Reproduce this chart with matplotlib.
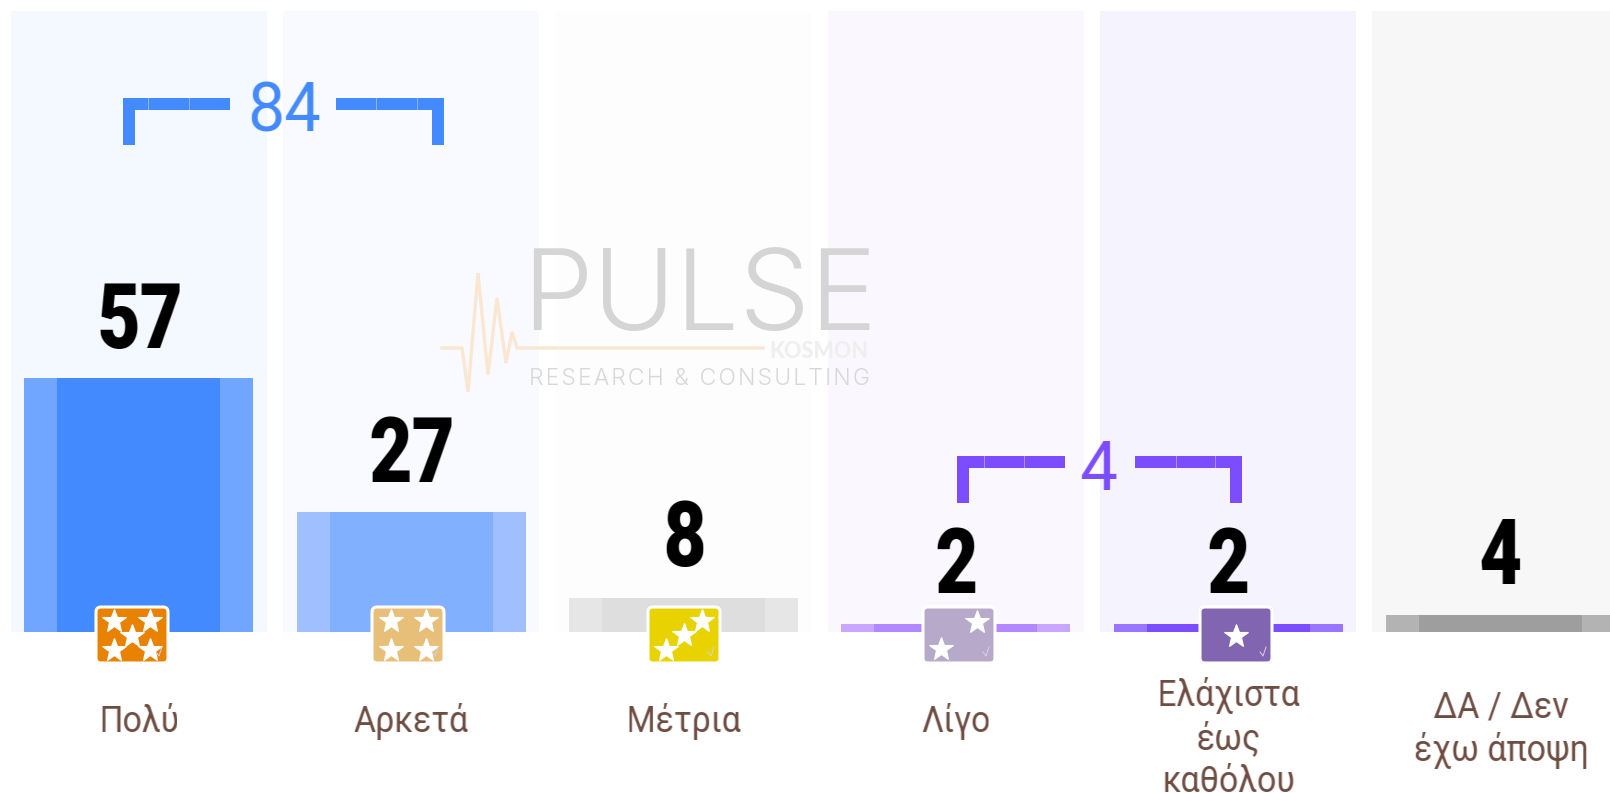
import numpy as np
import matplotlib
matplotlib.use("Agg")
import matplotlib.pyplot as plt
from matplotlib.colors import to_rgb
from matplotlib.patches import FancyBboxPatch, Rectangle

categories = ["Πολύ", "Αρκετά", "Μέτρια", "Λίγο", "Ελάχιστα\nέως\nκαθόλου", "ΔΑ / Δεν\nέχω άποψη"]
values = [57, 27, 8, 2, 2, 4]
bar_heights = [57, 27, 7.6, 1.7, 1.7, 3.8]
bar_inner = ["#448AFF", "#80B0FF", "#DEDEDE", "#B388FF", "#7C4DFF", "#9E9E9E"]
bar_outer = ["#70A6FF", "#A0BFFF", "#E6E6E6", "#C9A6FF", "#9A75FF", "#B3B3B3"]
bands = ["#F4F8FF", "#F9FAFF", "#FDFDFD", "#FAF8FE", "#F5F3FE", "#F7F7F7"]
icon_colors = ["#E88200", "#E8BF78", "#E8D300", "#B6A9C9", "#8265B0"]
group_labels = ["84", "4"]

W, H = 1610, 793
PX_PER_CAT = 272.3
PX_PER_VAL = 4.44
X0, Y0 = 138.8, 631.5


def condensed(factor, color):
    """agg filter: rescale a rendered text horizontally about its centre."""
    rgb = np.array(to_rgb(color))

    def flt(img, dpi):
        h, w = img.shape[:2]
        pad = 2
        new_w = max(1, int(round(w * factor)))
        out = np.zeros((h, new_w + 2 * pad, 4))
        out[..., :3] = rgb
        ss = 6
        xs = (np.arange((new_w + 2 * pad) * ss) + 0.5) / ss - pad
        src = xs / factor - 0.5
        for r in range(h):
            a = np.interp(src, np.arange(w), img[r, :, 3], left=0, right=0)
            out[r, :, 3] = a.reshape(-1, ss).mean(axis=1)
        return out, (w - new_w) / 2 - pad, 0

    return flt


fig = plt.figure(figsize=(W / 100, H / 100), dpi=100, facecolor="white")
ax = fig.add_axes([0, 0, 1, 1])
ax.set_xlim(-X0 / PX_PER_CAT, (W - X0) / PX_PER_CAT)
ax.set_ylim(-(H - Y0) / PX_PER_VAL, Y0 / PX_PER_VAL)
ax.axis("off")

x = list(range(len(values)))
band_top = (Y0 - 11) / PX_PER_VAL
ax.bar(x, [band_top] * 6, width=256 / PX_PER_CAT, color=bands, zorder=1)

# watermark layer
bg = fig.add_axes([0, 0, 1, 1], zorder=1)
bg.set_xlim(0, W)
bg.set_ylim(H, 0)
bg.axis("off")
bg.patch.set_alpha(0)
bg.text(699.5, 330, "PULSE", family="Inter", weight=300, fontsize=81, color="#D5D5D5",
        ha="center", va="baseline")
bg.text(868, 358, "KOSMON", family="Lato", weight="black", fontsize=15.5, color="#EFEFEF",
        ha="right", va="baseline")
bg.text(699.5, 385, "\u200a".join("RESEARCH & CONSULTING"), family=["Inter", "DejaVu Sans"],
        weight=300, fontsize=16.5, color="#D8D8D8", ha="center", va="baseline")
pulse_x = [442, 462, 468, 478, 488, 497, 506, 512, 517, 763]
pulse_y = [348, 348, 392, 273, 375, 298, 363, 332, 348, 348]
bg.plot(pulse_x, pulse_y, color="#F9E7D2", lw=2.4, solid_joinstyle="miter")

# bars
bx = fig.add_axes([0, 0, 1, 1], zorder=2)
bx.set_xlim(ax.get_xlim())
bx.set_ylim(ax.get_ylim())
bx.axis("off")
bx.patch.set_alpha(0)
bx.bar(x, bar_heights, width=229 / PX_PER_CAT, color=bar_outer)
bx.bar(x, bar_heights, width=163 / PX_PER_CAT, color=bar_inner)

# overlay
ov = fig.add_axes([0, 0, 1, 1], zorder=5)
ov.set_xlim(0, W)
ov.set_ylim(H, 0)
ov.axis("off")
ov.patch.set_alpha(0)

for xi, v in zip(x, values):
    t = bx.text(xi + 0.7 / PX_PER_CAT, v + 30 / PX_PER_VAL, str(v), ha="center", va="baseline",
                family="Roboto", weight=900, fontsize=65, color="black", zorder=6)
    t.set_agg_filter(condensed(0.825, "black"))

label_y = [722, 722, 722, 722, 738.5, 729.5]
for xi, lab, ly in zip(x, categories, label_y):
    t = ov.text(X0 + 0.3 + xi * PX_PER_CAT, ly, lab, ha="center", va="center", family="Roboto",
                fontsize=26.5, color="#6D4C41", linespacing=1.24)
    t.set_agg_filter(condensed(0.92, "#6D4C41"))

# rating icons
icon_cx = [132, 408, 684, 959, 1236]
stars = [
    [(-18, -14), (18, -14), (0, 1), (-18, 15), (18, 15)],
    [(-17.5, -14), (17.5, -14), (-17.5, 15), (17.5, 15)],
    [(-18, 15), (0, 0), (18, -14)],
    [(18, -13), (-18, 14)],
    [(0, 1)],
]
for cx, col, st in zip(icon_cx, icon_colors, stars):
    ov.add_patch(FancyBboxPatch((cx - 33, 610), 66, 50, boxstyle="round,pad=3,rounding_size=5",
                                fc=col, ec="white", lw=2.2, zorder=6))
    ov.plot([cx + a for a, b in st], [635 + b for a, b in st], ls="", marker="*", ms=18,
            mfc="white", mec="white", mew=0.8, zorder=7)
    ov.plot([cx + 24, cx + 27, cx + 30], [652, 656, 647], color="#D9D0E0", lw=0.7, zorder=7)


def bracket(x1, x2, g1, g2, top, bottom, color, label, tx, ty, seps, squeeze):
    t = 12
    ov.add_patch(Rectangle((x1, top), t, bottom - top, fc=color, ec="none"))
    ov.add_patch(Rectangle((x2 - t, top), t, bottom - top, fc=color, ec="none"))
    ov.add_patch(Rectangle((x1, top), g1 - x1, t, fc=color, ec="none"))
    ov.add_patch(Rectangle((g2, top), x2 - g2, t, fc=color, ec="none"))
    for s in seps:
        ov.plot([s, s], [top, top + t], color="white", lw=0.6, alpha=0.45, zorder=4)
    txt = ov.text(tx, ty, label, color=color, family="Roboto", fontsize=49, ha="center",
                  va="center_baseline")
    txt.set_agg_filter(condensed(squeeze, color))


bracket(123, 444, 230, 336, 98, 145, "#448AFF", group_labels[0], 284, 106,
        [148, 189, 376, 417], 0.97)
bracket(957, 1242, 1065, 1135, 456, 503, "#7C4DFF", group_labels[1], 1098, 464,
        [984, 1024, 1176, 1215], 1.0)

fig.savefig("out.png", dpi=100, facecolor="white")
